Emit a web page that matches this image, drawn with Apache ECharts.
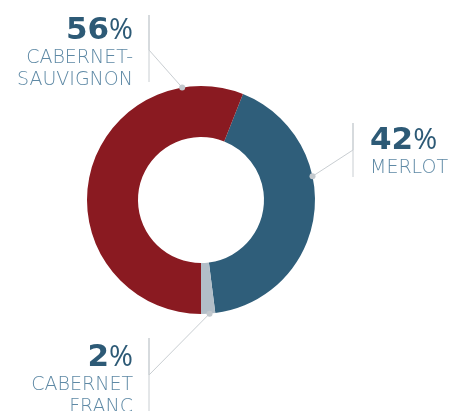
<!DOCTYPE html>
<html><head><meta charset="utf-8">
<script src="https://cdn.jsdelivr.net/npm/echarts@6/dist/echarts.min.js"></script>
<style>html,body{margin:0;padding:0;background:#fff}#c{width:457px;height:411px}</style>
</head><body><div id="c"></div>
<script>
// ---- data ----
const categories = ['Merlot', 'Cabernet Franc', 'Cabernet-Sauvignon'];
const values = [42, 2, 56];
const nameLines = [['MERLOT'], ['CABERNET', 'FRANC'], ['CABERNET-', 'SAUVIGNON']];

// ---- styling / layout ----
const sliceColors = ['#2f5e7a', '#b2bec8', '#8a1a21'];
const CX = 201, CY = 200, R0 = 63, R1 = 114;
const START = 68.4;
const annot = [
  {angle: 78,    barX: 353, barTop: 123, barBottom: 177, elbowY: 150, textX: 370, textY: 124, align: 'left'},
  {angle: 175.7, barX: 149, barTop: 338, barBottom: 411, elbowY: 375, textX: 133, textY: 341, align: 'right'},
  {angle: 350.5, barX: 149, barTop: 15,  barBottom: 82,  elbowY: 50,  textX: 133, textY: 14,  align: 'right'}
];
function edgePoint(deg) {
  const a = (deg - 90) * Math.PI / 180;
  return [CX + R1 * Math.cos(a), CY + R1 * Math.sin(a)];
}
const chart = echarts.init(document.getElementById('c'), null, {renderer: 'canvas'});
chart.setOption({
  animation: false,
  backgroundColor: '#ffffff',
  graphic: annot.map(a => {
    const p = edgePoint(a.angle);
    return {type: 'circle', z: 100, shape: {cx: p[0], cy: p[1], r: 3}, style: {fill: '#c3c9ce'}};
  }),
  series: [{
    type: 'pie',
    center: [CX, CY],
    radius: [R0, R1],
    startAngle: START,
    clockwise: true,
    avoidLabelOverlap: false,
    silent: true,
    itemStyle: {borderWidth: 0},
    data: categories.map((n, i) => ({name: n, value: values[i], itemStyle: {color: sliceColors[i]}})),
    label: {
      show: true,
      position: 'outside',
      formatter: p => '{num|' + values[p.dataIndex] + '}{pct|%}\n' +
        nameLines[p.dataIndex].map(s => '{name|' + s + '}').join('\n'),
      rich: {
        num: {fontFamily: 'DejaVu Sans', fontWeight: 'bold', fontSize: 31, color: '#2d5a76', lineHeight: 33},
        pct: {fontFamily: 'Open Sans', fontWeight: 400, fontSize: 29, color: '#2d5a76', lineHeight: 33},
        name: {fontFamily: 'DejaVu Sans', fontWeight: 200, fontSize: 19, color: '#5e89a5', lineHeight: 22}
      }
    },
    labelLine: {show: true, smooth: false, lineStyle: {color: '#c9ced2', width: 1}},
    labelLayout: p => {
      const a = annot[p.dataIndex];
      const e = edgePoint(a.angle);
      return {
        x: a.textX, y: a.textY, align: a.align, verticalAlign: 'top',
        labelLinePoints: [e, [a.barX, a.elbowY], [a.barX, a.barTop], [a.barX, a.barBottom]]
      };
    }
  }]
});
</script></body></html>
